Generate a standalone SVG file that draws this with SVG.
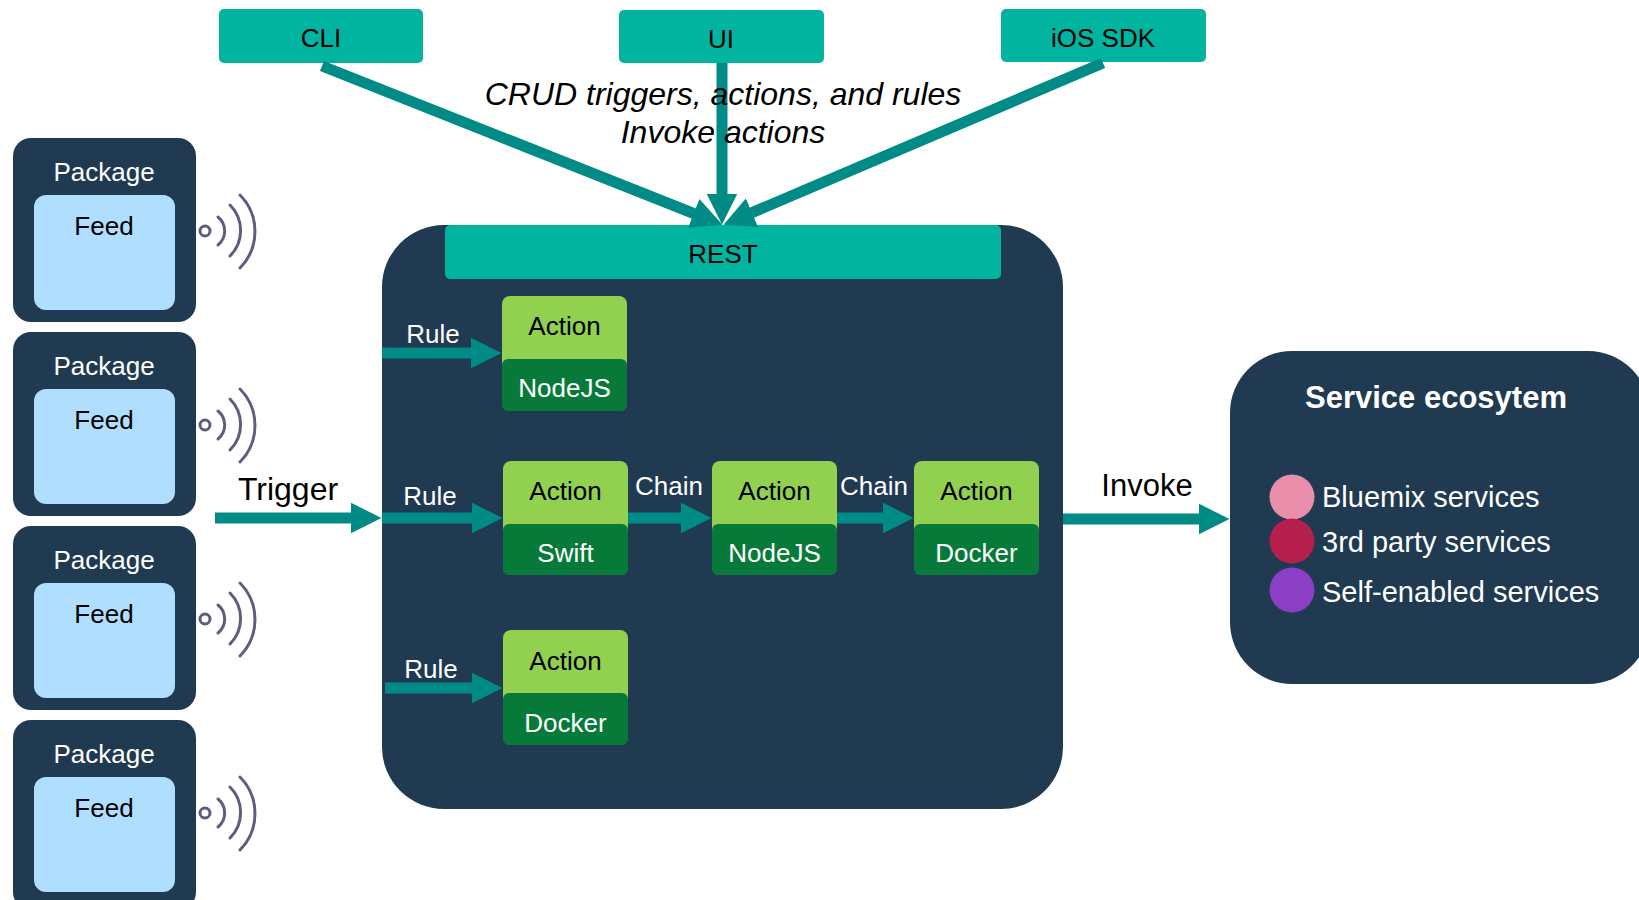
<svg xmlns="http://www.w3.org/2000/svg" width="1639" height="900" viewBox="0 0 1639 900">
<defs>
<style>
text{font-family:"Liberation Sans",Arial,sans-serif;font-size:26px;text-anchor:middle}
.navy{fill:#1f3a51}
.feed{fill:#b0defe}
.teal{fill:#00b4a0}
.lg{fill:#92d050}
.dg{fill:#077a3a}
.w{fill:#ffffff}
.k{fill:#000000}
.arr{stroke:#008b87;stroke-width:11;fill:none}
.sig{stroke:#5f5c80;stroke-width:3;fill:none;stroke-linecap:round}
.it{font-style:italic;font-size:32px}
.big{font-size:31px}
.leg{font-size:29px;text-anchor:start;fill:#ffffff}
</style>
<marker id="ah" viewBox="0 0 31 31" refX="16" refY="15.5" markerWidth="31" markerHeight="31" markerUnits="userSpaceOnUse" orient="auto">
<path d="M0,0 L31,15.5 L0,31 z" fill="#008b87"/>
</marker>
<g id="signal">
<circle cx="205" cy="231" r="5" class="sig" stroke-width="2.5"/>
<path class="sig" d="M218,217 A18,18 0 0 1 218,245"/>
<path class="sig" d="M230,205 A36,36 0 0 1 230,256"/>
<path class="sig" d="M240,195 A52,52 0 0 1 240,268"/>
</g>
</defs>

<g id="package1">
<rect x="13" y="138" width="183" height="184" rx="18" class="navy"/>
<rect x="34" y="195" width="141" height="115" rx="12" class="feed"/>
<text x="104" y="181" class="w">Package</text>
<text x="104" y="235" class="k">Feed</text>
<use href="#signal"/>
</g>
<g id="package2">
<rect x="13" y="332" width="183" height="184" rx="18" class="navy"/>
<rect x="34" y="389" width="141" height="115" rx="12" class="feed"/>
<text x="104" y="375" class="w">Package</text>
<text x="104" y="429" class="k">Feed</text>
<use href="#signal" y="194"/>
</g>
<g id="package3">
<rect x="13" y="526" width="183" height="184" rx="18" class="navy"/>
<rect x="34" y="583" width="141" height="115" rx="12" class="feed"/>
<text x="104" y="569" class="w">Package</text>
<text x="104" y="623" class="k">Feed</text>
<use href="#signal" y="388"/>
</g>
<g id="package4">
<rect x="13" y="720" width="183" height="190" rx="18" class="navy"/>
<rect x="34" y="777" width="141" height="115" rx="12" class="feed"/>
<text x="104" y="763" class="w">Package</text>
<text x="104" y="817" class="k">Feed</text>
<use href="#signal" y="582"/>
</g>

<g id="cli">
<rect x="219" y="9" width="204" height="54" rx="5" class="teal"/>
<text x="321" y="47" class="k">CLI</text>
</g>
<g id="ui">
<rect x="619" y="10" width="205" height="53" rx="5" class="teal"/>
<text x="721" y="48" class="k">UI</text>
</g>
<g id="ios">
<rect x="1001" y="9" width="205" height="53" rx="5" class="teal"/>
<text x="1103" y="47" class="k">iOS SDK</text>
</g>

<g id="main">
<rect x="382" y="225" width="681" height="584" rx="62" class="navy"/>
<rect x="445" y="225" width="556" height="54" rx="5" class="teal"/>
<text x="723" y="263" class="k">REST</text>
</g>

<g id="action1">
<rect x="502" y="296" width="125" height="115" rx="8" class="lg"/>
<rect x="502" y="359" width="125" height="52" rx="6" class="dg"/>
<text x="564.5" y="335" class="k">Action</text>
<text x="564.5" y="397" class="w">NodeJS</text>
</g>
<g id="action2">
<rect x="503" y="461" width="125" height="114" rx="8" class="lg"/>
<rect x="503" y="524" width="125" height="51" rx="6" class="dg"/>
<text x="565.5" y="500" class="k">Action</text>
<text x="565.5" y="562" class="w">Swift</text>
</g>
<g id="action3">
<rect x="712" y="461" width="125" height="114" rx="8" class="lg"/>
<rect x="712" y="524" width="125" height="51" rx="6" class="dg"/>
<text x="774.5" y="500" class="k">Action</text>
<text x="774.5" y="562" class="w">NodeJS</text>
</g>
<g id="action4">
<rect x="914" y="461" width="125" height="114" rx="8" class="lg"/>
<rect x="914" y="524" width="125" height="51" rx="6" class="dg"/>
<text x="976.5" y="500" class="k">Action</text>
<text x="976.5" y="562" class="w">Docker</text>
</g>
<g id="action5">
<rect x="503" y="630" width="125" height="115" rx="8" class="lg"/>
<rect x="503" y="693" width="125" height="52" rx="6" class="dg"/>
<text x="565.5" y="670" class="k">Action</text>
<text x="565.5" y="732" class="w">Docker</text>
</g>

<g id="service">
<rect x="1230" y="351" width="420" height="333" rx="62" class="navy"/>
<text x="1436" y="408" class="w" style="font-weight:bold;font-size:31px">Service ecosytem</text>
<circle cx="1292" cy="497" r="22.5" fill="#e98fab"/>
<circle cx="1292" cy="541" r="22.5" fill="#b5204e"/>
<circle cx="1292" cy="590" r="22.5" fill="#8b3fc5"/>
<text x="1322" y="507" class="leg">Bluemix services</text>
<text x="1322" y="552" class="leg">3rd party services</text>
<text x="1322" y="602" class="leg">Self-enabled services</text>
</g>

<g id="connectors">
<line x1="322" y1="66" x2="708.6" y2="219.3" class="arr" marker-end="url(#ah)"/>
<line x1="1103" y1="63" x2="737.3" y2="218.9" class="arr" marker-end="url(#ah)"/>
<line x1="722" y1="63" x2="722" y2="209.5" class="arr" marker-end="url(#ah)"/>
<line x1="215" y1="518" x2="366.5" y2="518" class="arr" marker-end="url(#ah)"/>
<line x1="382" y1="353" x2="486.5" y2="353" class="arr" stroke-width="10" marker-end="url(#ah)"/>
<line x1="382" y1="518" x2="487.5" y2="518" class="arr" stroke-width="10" marker-end="url(#ah)"/>
<line x1="385" y1="688" x2="487.5" y2="688" class="arr" stroke-width="10" marker-end="url(#ah)"/>
<line x1="628" y1="518" x2="696.5" y2="518" class="arr" stroke-width="10" marker-end="url(#ah)"/>
<line x1="837" y1="518" x2="898.5" y2="518" class="arr" stroke-width="10" marker-end="url(#ah)"/>
<line x1="1063" y1="519" x2="1214.5" y2="519" class="arr" marker-end="url(#ah)"/>
</g>

<g id="labels">
<text x="723" y="105" class="it k">CRUD triggers, actions, and rules</text>
<text x="723" y="143" class="it k">Invoke actions</text>
<text x="288" y="500" class="k" style="font-size:32px">Trigger</text>
<text x="1147" y="496" class="k big">Invoke</text>
<text x="433" y="343" class="w">Rule</text>
<text x="430" y="505" class="w">Rule</text>
<text x="431" y="678" class="w">Rule</text>
<text x="669" y="495" class="w">Chain</text>
<text x="874" y="495" class="w">Chain</text>
</g>
</svg>
